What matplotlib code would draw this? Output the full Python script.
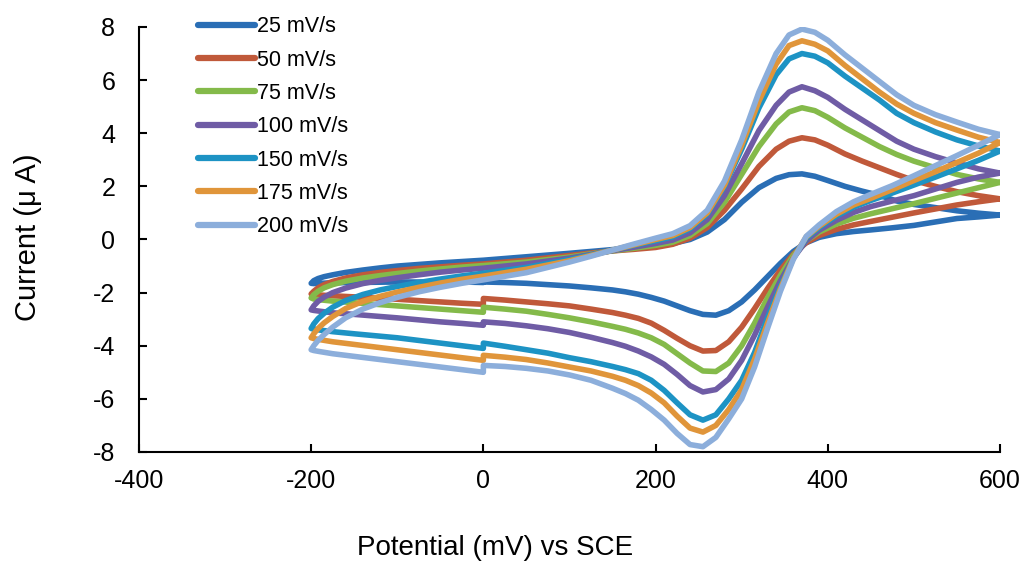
import matplotlib
matplotlib.use('Agg')
import matplotlib.pyplot as plt

plt.rcParams['font.family'] = ['Liberation Sans', 'DejaVu Sans']
plt.rcParams['axes.unicode_minus'] = False  # 用普通连字符当负号

# 扫描速率
labels = ['25 mV/s', '50 mV/s', '75 mV/s', '100 mV/s', '150 mV/s', '175 mV/s', '200 mV/s']
colors = ['#2A6EB5', '#C0593A', '#84BA4A', '#6F5CA5', '#1D93C4', '#E0953A', '#8CAEDB']

# 回扫 (600 -> -200 mV)，0 mV 处有一个小台阶
E_rev = [600, 575, 550, 525, 500, 475, 450, 430, 410, 390, 375, 360, 345, 330, 315, 300,
         285, 270, 255, 240, 225, 210, 195, 180, 165, 150, 125, 100, 75, 50, 25, 0, 0,
         -25, -50, -100, -150, -175, -190, -197, -200]
# 正扫 (-200 -> 600 mV)
E_fwd = [-200, -197, -192, -185, -175, -160, -140, -120, -100, -75, -50, -25, 0, 50, 100,
         125, 150, 175, 200, 220, 240, 260, 280, 300, 320, 340, 355, 370, 385, 400, 420,
         440, 460, 480, 500, 525, 550, 575, 600]

I_rev_25 = [0.92, 0.85, 0.79, 0.66, 0.53, 0.44, 0.36, 0.3, 0.22, 0.08, -0.12, -0.45, -0.9,
            -1.4, -1.9, -2.35, -2.68, -2.85, -2.82, -2.68, -2.5, -2.32, -2.18, -2.06, -1.97,
            -1.9, -1.82, -1.75, -1.7, -1.65, -1.62, -1.6, -1.62, -1.6, -1.6, -1.6, -1.62,
            -1.63, -1.65, -1.66, -1.65]
I_fwd_25 = [-1.65, -1.55, -1.47, -1.4, -1.33, -1.24, -1.15, -1.07, -1.0, -0.94, -0.88, -0.83,
            -0.78, -0.65, -0.52, -0.45, -0.38, -0.32, -0.25, -0.15, 0.0, 0.28, 0.75, 1.4,
            1.95, 2.3, 2.44, 2.47, 2.38, 2.22, 2.0, 1.82, 1.66, 1.45, 1.32, 1.2, 1.08, 0.99, 0.92]

I_rev_50 = [1.53, 1.42, 1.3, 1.15, 1.0, 0.84, 0.68, 0.55, 0.38, 0.15, -0.12, -0.55, -1.15,
            -1.85, -2.6, -3.3, -3.85, -4.18, -4.2, -4.0, -3.72, -3.42, -3.15, -2.97, -2.85,
            -2.75, -2.62, -2.5, -2.42, -2.35, -2.28, -2.22, -2.44, -2.4, -2.35, -2.25, -2.16,
            -2.12, -2.09, -2.07, -2.05]
I_fwd_50 = [-2.05, -1.95, -1.82, -1.7, -1.58, -1.45, -1.33, -1.24, -1.17, -1.09, -1.03, -0.97,
            -0.92, -0.78, -0.6, -0.51, -0.43, -0.37, -0.3, -0.18, 0.05, 0.45, 1.1, 1.9, 2.75,
            3.4, 3.7, 3.83, 3.75, 3.55, 3.22, 2.95, 2.7, 2.45, 2.22, 2.0, 1.8, 1.65, 1.53]

I_rev_75 = [2.15, 1.95, 1.75, 1.55, 1.35, 1.16, 0.97, 0.8, 0.58, 0.28, -0.05, -0.6, -1.35,
            -2.2, -3.15, -4.0, -4.65, -4.97, -4.95, -4.65, -4.3, -3.95, -3.7, -3.52, -3.38,
            -3.27, -3.1, -2.95, -2.82, -2.7, -2.62, -2.55, -2.74, -2.68, -2.62, -2.5, -2.38,
            -2.32, -2.27, -2.24, -2.2]
I_fwd_75 = [-2.2, -2.08, -1.95, -1.82, -1.7, -1.57, -1.45, -1.36, -1.28, -1.19, -1.11, -1.04,
            -0.98, -0.85, -0.66, -0.54, -0.43, -0.33, -0.22, -0.1, 0.15, 0.6, 1.4, 2.45, 3.5,
            4.35, 4.8, 4.96, 4.85, 4.6, 4.2, 3.85, 3.5, 3.2, 2.95, 2.7, 2.45, 2.28, 2.15]

I_rev_100 = [2.5, 2.35, 2.15, 1.9, 1.65, 1.45, 1.24, 1.02, 0.72, 0.35, -0.05, -0.7, -1.55,
             -2.55, -3.6, -4.55, -5.25, -5.65, -5.74, -5.5, -5.08, -4.7, -4.42, -4.2, -4.02,
             -3.88, -3.68, -3.5, -3.36, -3.25, -3.16, -3.1, -3.23, -3.16, -3.1, -2.95, -2.82,
             -2.76, -2.7, -2.67, -2.65]
I_fwd_100 = [-2.65, -2.5, -2.33, -2.17, -2.0, -1.83, -1.66, -1.54, -1.44, -1.33, -1.23, -1.15,
             -1.08, -0.92, -0.7, -0.56, -0.42, -0.29, -0.15, -0.02, 0.25, 0.75, 1.65, 2.85,
             4.1, 5.05, 5.55, 5.75, 5.6, 5.35, 4.9, 4.5, 4.1, 3.7, 3.4, 3.12, 2.88, 2.66, 2.5]

I_rev_150 = [3.33, 2.98, 2.66, 2.35, 2.05, 1.75, 1.47, 1.22, 0.88, 0.45, 0.05, -0.7, -1.75,
             -2.95, -4.25, -5.3, -6.0, -6.6, -6.8, -6.6, -6.15, -5.68, -5.3, -5.05, -4.9,
             -4.78, -4.6, -4.45, -4.28, -4.15, -4.02, -3.9, -4.1, -4.0, -3.9, -3.7, -3.55,
             -3.47, -3.41, -3.38, -3.35]
I_fwd_150 = [-3.35, -3.18, -2.98, -2.78, -2.55, -2.3, -2.07, -1.9, -1.77, -1.62, -1.49, -1.37,
             -1.27, -1.05, -0.75, -0.58, -0.4, -0.22, -0.05, 0.1, 0.4, 0.95, 2.0, 3.4, 4.95,
             6.2, 6.8, 7.0, 6.9, 6.65, 6.15, 5.7, 5.25, 4.75, 4.4, 4.05, 3.75, 3.52, 3.33]

I_rev_175 = [3.65, 3.25, 2.9, 2.55, 2.22, 1.88, 1.55, 1.3, 0.95, 0.5, 0.1, -0.7, -1.85,
             -3.15, -4.5, -5.65, -6.4, -7.0, -7.25, -7.1, -6.65, -6.15, -5.78, -5.5, -5.3,
             -5.15, -4.95, -4.8, -4.65, -4.52, -4.43, -4.36, -4.55, -4.45, -4.35, -4.15, -3.95,
             -3.85, -3.77, -3.73, -3.7]
I_fwd_175 = [-3.7, -3.55, -3.35, -3.14, -2.9, -2.6, -2.33, -2.14, -1.98, -1.8, -1.64, -1.5,
             -1.38, -1.12, -0.8, -0.6, -0.4, -0.2, 0.0, 0.15, 0.45, 1.0, 2.05, 3.55, 5.2, 6.6,
             7.3, 7.48, 7.35, 7.1, 6.55, 6.05, 5.55, 5.1, 4.75, 4.4, 4.12, 3.85, 3.65]

I_rev_200 = [3.95, 3.55, 3.16, 2.78, 2.4, 2.03, 1.7, 1.42, 1.05, 0.55, 0.12, -0.75, -1.95,
             -3.35, -4.8, -6.0, -6.75, -7.45, -7.8, -7.72, -7.3, -6.8, -6.4, -6.05, -5.8,
             -5.6, -5.3, -5.1, -4.95, -4.85, -4.78, -4.74, -5.0, -4.9, -4.8, -4.6, -4.4,
             -4.3, -4.22, -4.18, -4.15]
I_fwd_200 = [-4.15, -4.0, -3.8, -3.58, -3.3, -2.95, -2.62, -2.38, -2.18, -1.97, -1.8, -1.65,
             -1.52, -1.25, -0.85, -0.63, -0.4, -0.17, 0.05, 0.22, 0.52, 1.1, 2.2, 3.75, 5.55,
             7.0, 7.7, 7.92, 7.8, 7.5, 6.95, 6.45, 5.95, 5.45, 5.05, 4.7, 4.42, 4.15, 3.95]

I_rev = [I_rev_25, I_rev_50, I_rev_75, I_rev_100, I_rev_150, I_rev_175, I_rev_200]
I_fwd = [I_fwd_25, I_fwd_50, I_fwd_75, I_fwd_100, I_fwd_150, I_fwd_175, I_fwd_200]

fig = plt.figure(figsize=(10.27, 5.61), dpi=100)
ax = fig.add_axes([0.1353, 0.1943, 0.8384, 0.7576])

for lab, c, ir, ifw in zip(labels, colors, I_rev, I_fwd):
    ax.plot(E_rev + E_fwd, ir + ifw, color=c, lw=4, label=lab,
            solid_joinstyle='round', solid_capstyle='round')

ax.set_xlim(-400, 600)
ax.set_ylim(-8, 8)
ax.set_xticks([-400, -200, 0, 200, 400, 600])
ax.set_yticks([-8, -6, -4, -2, 0, 2, 4, 6, 8])

ax.spines['top'].set_visible(False)
ax.spines['right'].set_visible(False)
ax.spines['left'].set_linewidth(1.5)
ax.spines['bottom'].set_linewidth(1.5)
ax.tick_params(axis='both', direction='in', length=6, width=1.5, labelsize=18)
ax.tick_params(axis='y', pad=17)
ax.tick_params(axis='x', pad=12)

fig.text(28 / 1027, 1 - 237 / 561, 'Current (μ A)', rotation=90,
         ha='center', va='center', fontsize=21)
fig.text(495 / 1027, 1 - 548 / 561, 'Potential (mV) vs SCE',
         ha='center', va='center', fontsize=20)

leg = ax.legend(loc='upper left', bbox_to_anchor=(0.058, 1.045), frameon=False,
                fontsize=15.5, handlelength=2.65, handletextpad=0.1, labelspacing=0.57,
                borderaxespad=0)
for line in leg.get_lines():
    line.set_linewidth(4.5)

fig.savefig('out.png', dpi=100)
